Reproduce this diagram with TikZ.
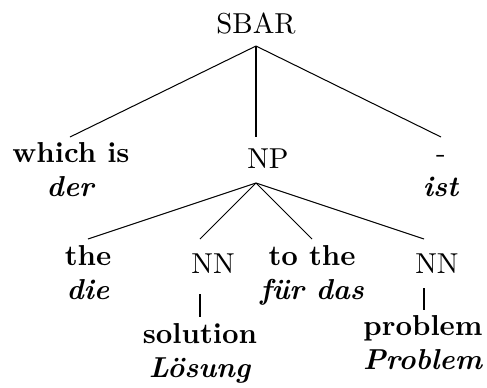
\documentclass[tikz,border=0pt]{standalone}
\usepackage{fontspec}
\newcommand{\twoline}[2]{\begin{tabular}[t]{@{}c@{}}\textbf{#1}\\ \textbf{\textit{#2}}\end{tabular}}
\begin{document}
\begin{tikzpicture}[x=0.347pt,y=-0.347pt,
  lbl/.style={anchor=base,inner sep=0pt,outer sep=0pt},
  edge/.style={line width=0.35pt}]
\useasboundingbox (0,0) rectangle (487,387);
% labels (placed at their baselines)
\node[lbl] (sbar) at (256,33) {SBAR};
\node[lbl] (which) at (71,162) {\twoline{which is}{der}};
\node[lbl] (np) at (268,168) {NP};
\node[lbl] (ist) at (441,162) {\twoline{\mdseries -}{ist}};
\node[lbl] (the) at (88,265) {\twoline{the}{die}};
\node[lbl] (nna) at (213,273) {NN};
\node[lbl] (tothe) at (312,265) {\twoline{to the}{für das}};
\node[lbl] (nnb) at (437,273) {NN};
\node[lbl] (sol) at (200,343) {\twoline{solution}{Lösung}};
\node[lbl] (prob) at (423,335) {\twoline{problem}{Problem}};
% edge attachment points
\coordinate (sbar-s) at (256,46);
\coordinate (which-n) at (70,137);
\coordinate (np-n) at (256,137);
\coordinate (ist-n) at (441,137);
\coordinate (np-s) at (256,183);
\coordinate (the-n) at (88,239);
\coordinate (nna-n) at (200,239);
\coordinate (tothe-n) at (312,239);
\coordinate (nnb-n) at (424,239);
\coordinate (nna-s) at (200,294);
\coordinate (sol-n) at (200,317);
\coordinate (nnb-s) at (424,288);
\coordinate (prob-n) at (424,310);
% tree edges
\draw[edge] (sbar-s) -- (which-n);
\draw[edge] (sbar-s) -- (np-n);
\draw[edge] (sbar-s) -- (ist-n);
\draw[edge] (np-s) -- (the-n);
\draw[edge] (np-s) -- (nna-n);
\draw[edge] (np-s) -- (tothe-n);
\draw[edge] (np-s) -- (nnb-n);
\draw[edge] (nna-s) -- (sol-n);
\draw[edge] (nnb-s) -- (prob-n);
\end{tikzpicture}
\end{document}
